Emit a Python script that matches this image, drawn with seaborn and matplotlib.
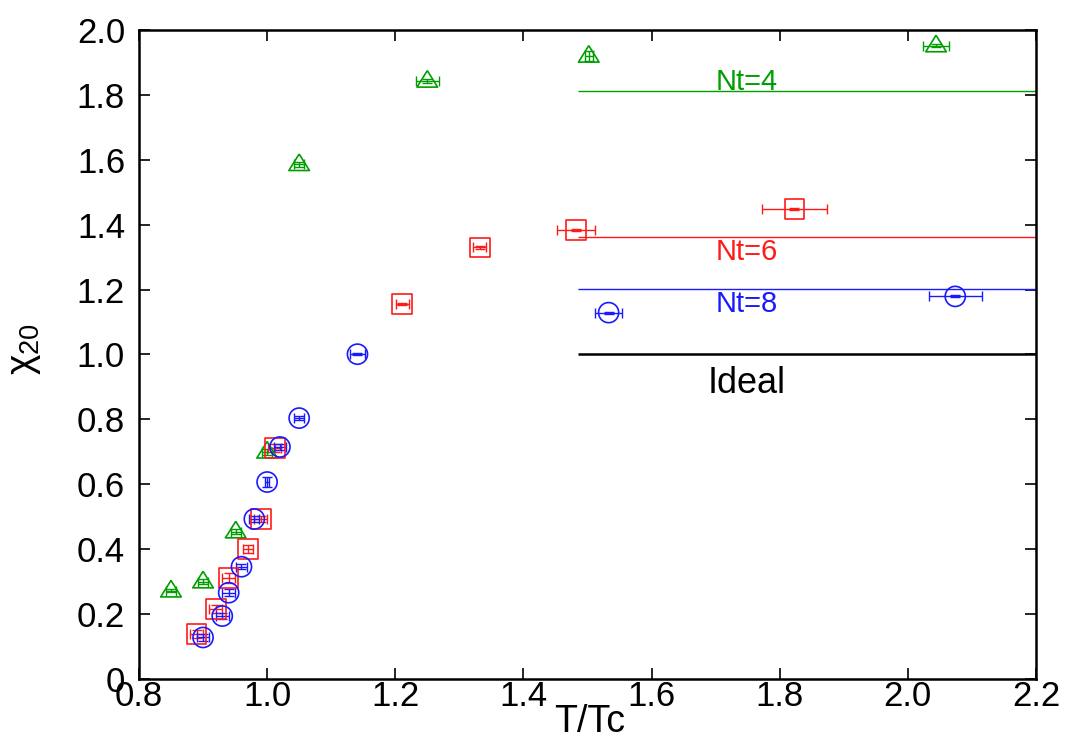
import numpy as np
import pandas as pd
import matplotlib
matplotlib.use("Agg")
import matplotlib.pyplot as plt
import seaborn as sns

# ---------------- data ----------------
nt4_x = [0.85, 0.90, 0.951, 1.00, 1.05, 1.25, 1.502, 2.044]
nt4_y = [0.272, 0.300, 0.454, 0.700, 1.586, 1.843, 1.920, 1.952]
nt4_xerr = [0.008, 0.008, 0.008, 0.008, 0.008, 0.018, 0.006, 0.021]
nt4_yerr = [0.005, 0.008, 0.008, 0.010, 0.008, 0.005, 0.015, 0.004]

nt6_x = [0.89, 0.92, 0.94, 0.97, 0.99, 1.012, 1.211, 1.332, 1.482, 1.823]
nt6_y = [0.138, 0.216, 0.312, 0.400, 0.493, 0.712, 1.156, 1.330, 1.384, 1.448]
nt6_xerr = [0.01, 0.01, 0.01, 0.008, 0.01, 0.01, 0.01, 0.01, 0.03, 0.051]
nt6_yerr = [0.012, 0.012, 0.015, 0.012, 0.010, 0.012, 0.004, 0.004, 0.003, 0.002]

nt8_x = [0.90, 0.93, 0.94, 0.96, 0.98, 1.00, 1.020, 1.05, 1.141, 1.533, 2.074]
nt8_y = [0.128, 0.194, 0.266, 0.346, 0.493, 0.607, 0.715, 0.804, 1.001, 1.129, 1.179]
nt8_xerr = [0.01, 0.01, 0.01, 0.008, 0.008, 0.003, 0.01, 0.008, 0.011, 0.021, 0.041]
nt8_yerr = [0.012, 0.010, 0.010, 0.008, 0.008, 0.015, 0.008, 0.006, 0.004, 0.003, 0.003]

limit_names = ["Nt=4", "Nt=6", "Nt=8", "Ideal"]
limit_values = [1.811, 1.361, 1.202, 1.0]
limit_label_y = [1.815, 1.291, 1.131, 0.881]
limit_start = 1.485
label_x = 1.749

x_ticks = [0.8, 1.0, 1.2, 1.4, 1.6, 1.8, 2.0, 2.2]
x_ticklabels = ["0.8", "1.0", "1.2", "1.4", "1.6", "1.8", "2.0", "2.2"]
y_ticks = [0, 0.2, 0.4, 0.6, 0.8, 1.0, 1.2, 1.4, 1.6, 1.8, 2.0]
y_ticklabels = ["0", "0.2", "0.4", "0.6", "0.8", "1.0", "1.2", "1.4", "1.6", "1.8", "2.0"]

GREEN = "#009e00"
RED = "#ff1a1a"
BLUE = "#1a1aff"

# ---------------- style ----------------
sns.set_style("ticks")
plt.rcParams["font.family"] = ["Liberation Sans", "DejaVu Sans"]
plt.rcParams["mathtext.fontset"] = "custom"
plt.rcParams["mathtext.rm"] = "Liberation Sans"
plt.rcParams["mathtext.it"] = "Liberation Sans:italic"

fig = plt.figure(figsize=(10.74, 7.42), dpi=100)
ax = fig.add_axes([0.1294, 0.0849, 0.8352, 0.8747])

tri = [(0, 1.0), (-1, -0.6), (1, -0.6), (0, 1.0)]

series = [
    (nt4_x, nt4_y, nt4_xerr, nt4_yerr, GREEN, tri, 220),
    (nt6_x, nt6_y, nt6_xerr, nt6_yerr, RED, "s", 200),
    (nt8_x, nt8_y, nt8_xerr, nt8_yerr, BLUE, "o", 210),
]

# reference lines and labels
line_colors = [GREEN, RED, BLUE, "black"]
line_widths = [1.0, 1.0, 1.0, 1.8]
label_sizes = [21, 21, 21, 26]
for name, val, ly, c, lw, fs in zip(limit_names, limit_values, limit_label_y,
                                    line_colors, line_widths, label_sizes):
    ax.hlines(val, limit_start, 2.2, colors=c, linewidth=lw, zorder=1)
    ax.text(label_x, ly, name, color=c, fontsize=fs, ha="center", va="baseline")

for xs, ys, xe, ye, c, m, s in series:
    df = pd.DataFrame({"x": xs, "y": ys})
    ax.errorbar(xs, ys, xerr=xe, yerr=ye, fmt="none", ecolor=c,
                elinewidth=1.0, capsize=3.5, capthick=1.0, zorder=2)
    sns.scatterplot(data=df, x="x", y="y", ax=ax, marker=m, s=s,
                    color=c, facecolor="none", edgecolor=c,
                    linewidth=1.2, zorder=3, legend=False)

ax.set_xlim(0.8, 2.2)
ax.set_ylim(0, 2.0)
ax.set_xticks(x_ticks)
ax.set_xticklabels(x_ticklabels)
ax.set_yticks(y_ticks)
ax.set_yticklabels(y_ticklabels)

ax.tick_params(axis="both", which="both", direction="in", top=True, right=True,
               length=8, width=1.2, labelsize=25, color="black", labelcolor="black")
ax.tick_params(axis="x", pad=1)
ax.tick_params(axis="y", pad=10)

for sp in ax.spines.values():
    sp.set_visible(True)
    sp.set_color("black")
    sp.set_linewidth(1.8)

ax.set_xlabel("T/Tc", fontsize=27, color="black")
ax.xaxis.set_label_coords(0.502, -0.038)
ax.set_ylabel(r"$\mathrm{\chi}_{20}$", fontsize=28, color="black")
ax.yaxis.set_label_coords(-0.107, 0.508)

fig.savefig("out.png", dpi=100, facecolor="white")
